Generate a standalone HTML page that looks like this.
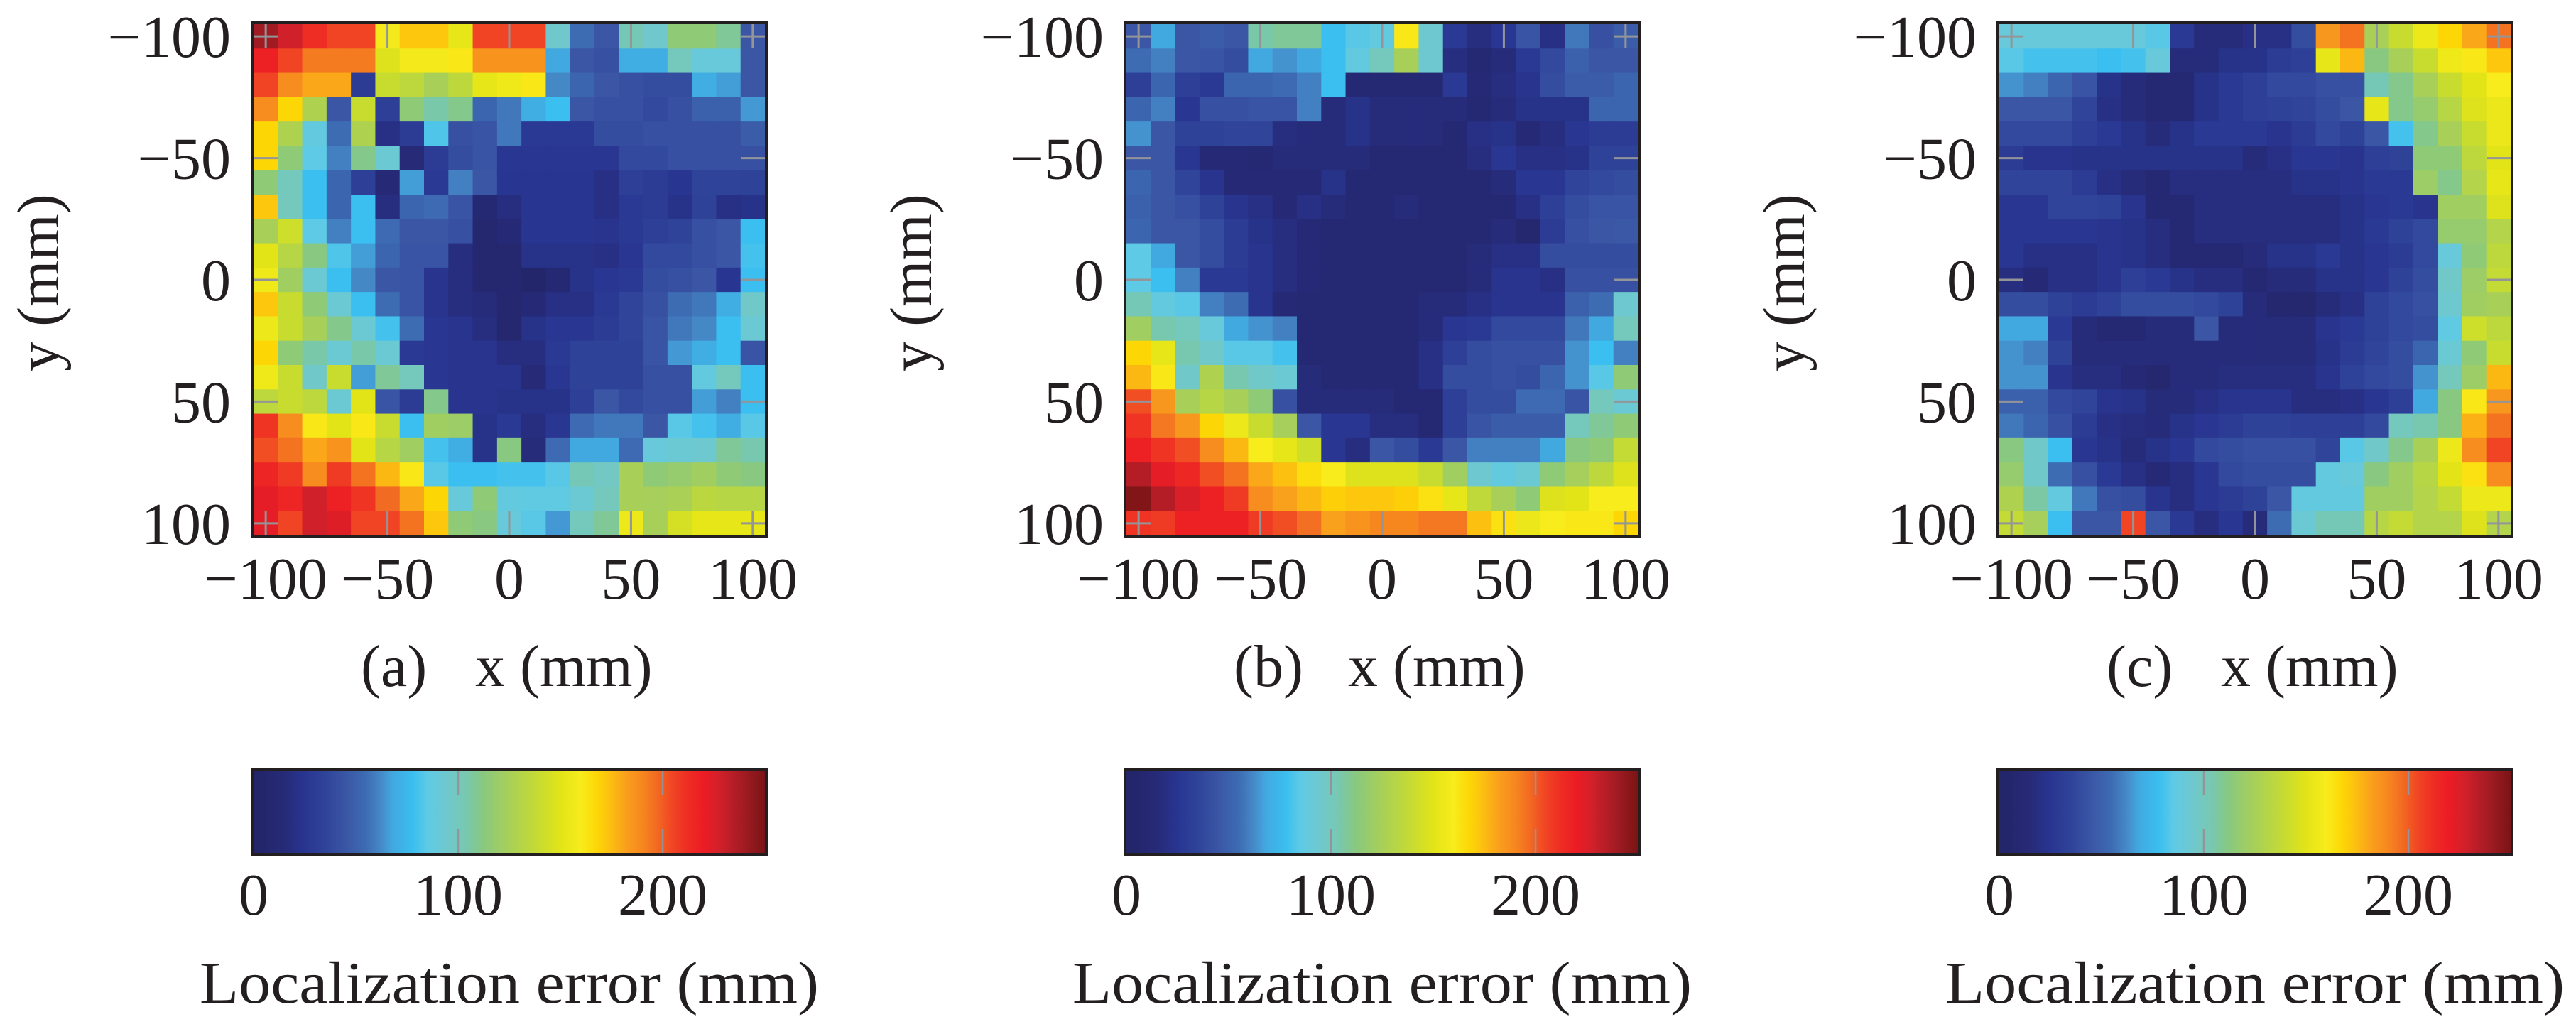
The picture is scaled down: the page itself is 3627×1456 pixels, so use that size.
<!DOCTYPE html>
<html><head><meta charset="utf-8"><style>
html,body{margin:0;padding:0;background:#fff;}
svg{display:block;font-family:"Liberation Serif",serif;}
</style></head><body>
<svg id="fig" width="3627" height="1456" viewBox="0 0 3627 1456" xmlns="http://www.w3.org/2000/svg"></svg>
<script>
const gridCoords=[-100,-90,-80,-70,-60,-50,-40,-30,-20,-10,0,10,20,30,40,50,60,70,80,90,100];
const axisTicks=[-100,-50,0,50,100];
const cbarTicks=[0,100,200];
const cbarMax=250;
const panelLabels=["(a)","(b)","(c)"];
const errA=[
[240,228,212,205,205,158,172,172,152,205,205,205,95,55,45,102,95,115,115,108,45],
[218,205,193,193,193,148,158,158,162,186,186,186,68,45,42,70,70,100,90,90,45],
[205,188,180,180,30,140,135,125,135,152,156,162,62,52,45,42,40,40,70,66,45],
[188,168,128,45,140,32,115,105,110,52,58,70,78,45,42,42,38,42,50,50,65],
[168,128,88,55,128,20,30,82,42,44,58,28,28,28,40,40,42,42,42,42,48],
[168,115,85,60,110,92,15,30,40,44,26,26,26,26,26,38,38,42,42,42,42],
[115,100,78,52,32,14,66,28,60,45,25,25,25,25,20,32,30,25,35,35,34],
[172,100,78,52,78,18,52,54,44,10,18,25,25,25,20,28,30,22,34,20,22],
[125,142,85,60,78,54,45,45,42,8,14,25,25,25,24,28,32,35,42,45,78],
[150,132,112,82,66,52,44,44,18,8,8,22,22,22,20,26,38,38,42,45,80],
[156,122,92,78,62,45,44,24,18,8,8,5,12,22,26,28,40,42,45,25,78],
[172,140,115,92,78,55,44,24,18,16,8,14,20,20,28,36,42,55,58,70,96],
[155,140,125,110,92,80,55,26,24,18,8,22,26,26,30,36,44,58,62,78,92],
[168,115,105,92,105,92,28,26,24,24,18,18,28,34,34,34,44,65,70,78,44],
[156,140,96,140,66,108,100,26,24,24,24,15,26,34,34,34,42,42,88,100,78],
[135,140,135,92,150,44,30,110,24,24,22,22,22,32,45,38,42,42,66,60,78],
[210,188,162,150,162,140,78,122,120,22,28,18,26,54,58,58,45,84,80,70,84],
[203,195,180,186,150,132,122,80,70,22,112,16,54,68,68,54,90,92,94,108,104],
[216,208,188,208,195,176,162,84,78,78,80,80,84,102,98,125,115,118,122,115,112],
[222,216,228,218,210,197,180,168,90,115,88,86,86,92,100,125,124,126,134,132,132],
[222,205,228,224,205,205,195,172,115,112,90,84,65,100,108,155,125,145,152,152,152]];
const errB=[
[45,68,45,48,45,105,108,108,78,84,88,162,94,28,18,26,44,20,58,42,48],
[55,60,45,44,40,68,64,68,78,88,100,125,94,18,12,16,28,38,50,45,45],
[32,52,32,28,52,52,54,60,78,12,12,12,12,28,14,18,24,40,48,48,52],
[52,60,26,42,42,44,44,60,16,22,16,16,16,16,12,16,22,22,22,52,52],
[64,45,34,34,36,36,18,16,16,22,16,16,16,12,20,22,14,18,26,30,30],
[45,45,26,14,14,10,16,16,16,16,12,12,12,12,18,26,20,20,22,34,34],
[52,45,36,24,14,14,14,14,22,12,12,12,12,12,12,16,26,26,36,38,40],
[50,45,42,34,24,20,14,20,16,12,12,16,12,12,12,10,20,32,40,44,44],
[52,45,45,40,30,22,18,14,12,12,12,12,12,12,12,16,8,30,42,45,46],
[85,68,45,40,30,24,18,14,12,12,12,12,12,12,16,20,20,40,40,40,40],
[85,78,60,28,28,24,18,14,12,12,12,12,12,12,16,24,24,20,42,42,42],
[102,88,84,60,55,24,14,12,12,12,12,12,16,16,20,24,24,24,50,55,94],
[122,104,100,90,68,64,60,12,12,12,12,12,16,26,28,38,38,38,58,68,100],
[168,152,104,96,84,84,80,12,12,12,12,12,20,32,40,42,42,42,64,78,60],
[176,162,96,128,104,96,92,16,12,12,12,12,20,40,40,42,40,52,64,84,115],
[203,185,125,132,125,115,42,16,16,16,16,12,12,32,40,40,54,54,44,100,92],
[210,194,185,168,155,140,124,45,26,26,18,18,12,32,44,48,48,48,100,108,115],
[218,210,203,188,176,160,152,142,26,18,45,40,28,45,60,60,60,68,112,115,138],
[235,222,215,203,195,180,174,165,160,148,148,148,140,122,94,88,92,115,124,135,148],
[248,235,225,218,208,188,182,176,170,172,172,170,164,152,136,125,115,148,150,160,160],
[210,208,218,218,218,208,203,196,182,186,190,190,194,194,174,164,154,160,162,162,168]];
const errC=[
[90,90,90,90,90,90,84,28,16,16,20,20,40,185,195,125,140,155,168,180,195],
[84,80,80,80,78,80,90,16,16,22,22,30,32,152,176,112,125,140,156,162,172],
[64,60,52,44,22,16,12,12,22,28,32,38,38,42,42,102,110,125,140,150,160],
[45,45,45,36,20,16,12,12,22,28,32,34,36,40,45,152,110,118,132,148,154],
[38,38,38,32,28,22,16,22,28,28,28,24,30,38,34,45,80,110,125,140,154],
[30,24,24,22,22,22,22,22,22,22,16,20,26,26,24,32,34,115,115,135,150],
[36,36,36,30,20,16,12,18,18,18,18,18,22,22,24,28,28,120,110,130,152],
[26,26,36,36,34,24,12,12,18,18,18,18,18,18,22,26,28,24,122,122,148],
[26,26,26,26,24,22,18,12,18,18,18,18,18,18,22,28,34,38,118,118,130],
[26,20,20,20,24,22,18,10,10,10,16,22,22,28,22,26,30,38,90,115,135],
[18,14,20,20,24,32,28,22,18,18,10,16,16,22,22,26,34,40,96,120,138],
[40,40,34,30,34,40,40,40,38,34,16,8,8,16,20,34,38,42,94,122,125],
[68,68,28,16,10,10,16,16,45,16,16,16,16,24,28,34,38,40,86,142,135],
[64,60,34,16,16,16,16,16,16,16,16,16,16,22,30,36,40,52,92,115,140],
[64,64,24,18,18,14,8,16,16,18,18,18,18,24,34,38,40,64,100,120,176],
[50,50,38,36,24,22,16,16,20,24,24,24,18,18,20,26,32,68,112,162,185],
[58,52,42,30,20,18,16,22,26,30,34,34,32,32,32,38,100,104,112,178,195],
[112,96,78,26,22,16,22,26,38,40,42,42,42,36,84,96,110,125,155,188,205],
[118,96,55,42,28,20,14,18,26,38,40,40,40,88,90,112,122,132,150,164,188],
[128,106,88,58,42,40,24,18,26,30,34,45,88,88,88,122,122,130,138,155,155],
[138,124,78,45,45,205,45,28,18,26,16,55,92,102,102,132,138,130,130,148,130]];
const panels=[errA,errB,errC];

// colormap
const cmV=[0,5,15,25,35,45,55,62,68,78,85,95,104,112,125,140,150,160,168,174,182,190,197,205,212,220,228,240,250];
const cmC=["#24266a","#24266c","#262a77","#283591","#2f4399","#3a56a5","#3d6cb3","#4588c6","#42a8e0","#3abff0","#5ecae6","#70c8cc","#78c8b0","#88c880","#a8d058","#c8dc30","#e2e418","#f8ec1c","#fdd606","#fcc010","#f9a01c","#f6871f","#f26b22","#f04424","#ee2d24","#ec1c24","#d0202a","#a01b22","#7a1416"];
function hx(c){return [parseInt(c.substr(1,2),16),parseInt(c.substr(3,2),16),parseInt(c.substr(5,2),16)];}
function cmap(v){
  if(v<=cmV[0])return cmC[0];
  for(let i=1;i<cmV.length;i++){if(v<=cmV[i]){const t=(v-cmV[i-1])/(cmV[i]-cmV[i-1]);const a=hx(cmC[i-1]),b=hx(cmC[i]);return "rgb("+a.map((x,k)=>Math.round(x+(b[k]-x)*t)).join(",")+")";}}
  return cmC[cmC.length-1];
}
const NS="http://www.w3.org/2000/svg";
const svg=document.getElementById("fig");
function el(tag,attrs,parent){const e=document.createElementNS(NS,tag);for(const k in attrs)e.setAttribute(k,attrs[k]);(parent||svg).appendChild(e);return e;}

const P0=357,PSTEP=1229,PY=34,PS=720,FS=84;
const defs=el("defs",{});
const grad=el("linearGradient",{id:"cbg",x1:"0",x2:"1",y1:"0",y2:"0"},defs);
for(let v=0;v<=cbarMax;v+=2.5){el("stop",{offset:(v/cbarMax),"stop-color":cmap(v)},grad);}

panels.forEach((data,p)=>{
  const x0=P0+p*PSTEP;
  const sx=v=>x0+(v+105)/210*PS;
  const sy=v=>PY+(v+105)/210*PS;
  const g=el("g",{});
  
  
  const cw=PS/21;
  data.forEach((row,r)=>{row.forEach((val,c)=>{
    const rc=el("rect",{x:(sx(gridCoords[c])-cw/2).toFixed(2),y:(sy(gridCoords[r])-cw/2).toFixed(2),width:(cw+0.6).toFixed(2),height:(cw+0.6).toFixed(2),fill:cmap(val)},g);
    
    
  });});
  // ticks
  axisTicks.forEach(t=>{
    const X=sx(t),Y=sy(t);
    [[X,PY,X,PY+34],[X,PY+PS,X,PY+PS-34],[x0,Y,x0+34,Y],[x0+PS,Y,x0+PS-34,Y]].forEach(l=>{
      const ln=el("line",{x1:l[0],y1:l[1],x2:l[2],y2:l[3],stroke:"#939598","stroke-width":3},g);
      
      
    });
    const lbl=t<0?"\u2212"+(-t):String(t);
    const tx=el("text",{x:X,y:843,"font-size":FS,"text-anchor":"middle",fill:"#231f20"},g);tx.textContent=lbl;
    
    
    const ty=el("text",{x:x0-32,y:Y+29,"font-size":FS,"text-anchor":"end",fill:"#231f20"},g);ty.textContent=lbl;
    
    
  });
  const fr=el("rect",{x:x0-2,y:PY-2,width:PS+4,height:PS+4,fill:"none",stroke:"#231f20","stroke-width":4},g);
  
  
  const yl=el("text",{x:0,y:0,"font-size":FS,"text-anchor":"middle",fill:"#231f20",transform:"translate("+(x0-275)+",398) rotate(-90)"},g);
  yl.textContent="y (mm)";
  
  
  const cap=el("text",{x:x0+151,y:966,"font-size":FS,fill:"#231f20"},g);cap.textContent=panelLabels[p];
  
  
  const xl=el("text",{x:x0+312,y:966,"font-size":FS,fill:"#231f20"},g);xl.textContent="x (mm)";
  
  
  // colorbar
  const cb=el("g",{});
  
  
  const cbY=1086,cbH=115;
  el("rect",{x:x0,y:cbY,width:PS,height:cbH,fill:"url(#cbg)"},cb);
  const cx=v=>x0+v/cbarMax*PS;
  cbarTicks.forEach(t=>{
    if(t>0){
      el("line",{x1:cx(t),y1:cbY,x2:cx(t),y2:cbY+33,stroke:"#939598","stroke-width":2.5},cb);
      el("line",{x1:cx(t),y1:cbY+cbH,x2:cx(t),y2:cbY+cbH-33,stroke:"#939598","stroke-width":2.5},cb);
    }
    const tl=el("text",{x:cx(t),y:1288,"font-size":FS,"text-anchor":"middle",fill:"#231f20"},cb);tl.textContent=String(t);
    
    
  });
  el("rect",{x:x0-2,y:cbY-2,width:PS+4,height:cbH+4,fill:"none",stroke:"#231f20","stroke-width":4},cb);
  const ct=el("text",{x:x0+360,y:1412,"font-size":FS,"text-anchor":"middle",fill:"#231f20",textLength:872,lengthAdjust:"spacingAndGlyphs"},cb);
  ct.textContent="Localization error (mm)";
  
  
});
</script>
</body></html>
